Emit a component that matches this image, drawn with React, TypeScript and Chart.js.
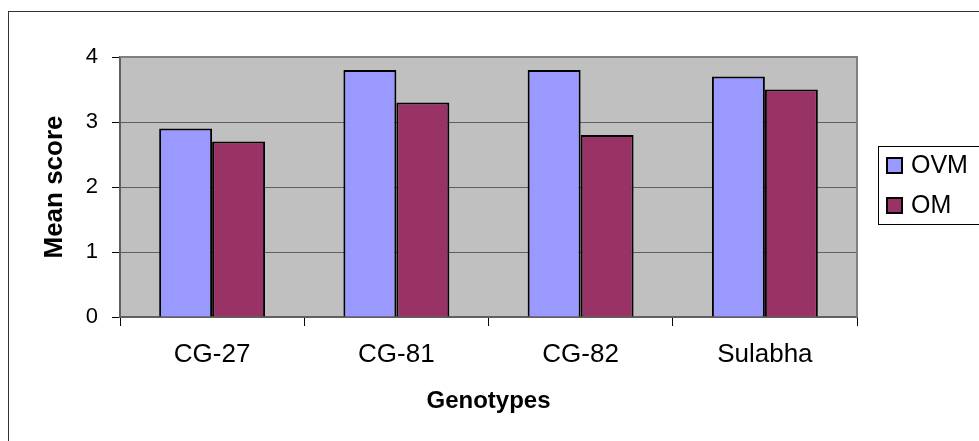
import React, { useEffect, useRef } from 'react';
import { Chart, registerables } from 'chart.js';

Chart.register(...registerables);

const categories = ['CG-27', 'CG-81', 'CG-82', 'Sulabha'];
const ovmValues = [2.9, 3.8, 3.8, 3.7];
const omValues = [2.7, 3.3, 2.8, 3.5];
const seriesNames = ['OVM', 'OM'];
const seriesColors = ['#9999FF', '#993366'];
const yMin = 0;
const yMax = 4;
const yStep = 1;
const xTitle = 'Genotypes';
const yTitle = 'Mean score';

const FONT = "'Liberation Sans', Arial, sans-serif";

const framePlugin = {
  id: 'frame',
  beforeDraw(chart: any) {
    const { ctx, chartArea, width, height } = chart;
    ctx.save();
    ctx.fillStyle = '#FFFFFF';
    ctx.fillRect(0, 0, width, height);
    ctx.strokeStyle = '#333333';
    ctx.lineWidth = 1;
    ctx.strokeRect(8.5, 11.5, width + 20, height + 20);
    ctx.fillStyle = '#C0C0C0';
    ctx.fillRect(chartArea.left, chartArea.top, chartArea.right - chartArea.left, chartArea.bottom - chartArea.top);
    ctx.restore();
  },
  beforeDatasetsDraw(chart: any) {
    const { ctx, chartArea } = chart;
    ctx.save();
    ctx.strokeStyle = '#808080';
    ctx.lineWidth = 2;
    ctx.beginPath();
    ctx.moveTo(chartArea.left, chartArea.top);
    ctx.lineTo(chartArea.right, chartArea.top);
    ctx.lineTo(chartArea.right, chartArea.bottom);
    ctx.stroke();
    ctx.restore();
  },
  afterDraw(chart: any) {
    const { ctx } = chart;
    ctx.save();
    ctx.strokeStyle = '#000000';
    ctx.lineWidth = 1;
    ctx.strokeRect(878.5, 146.5, 130, 78);
    const rows = [165.5, 205.5];
    chart.data.datasets.forEach((ds: any, i: number) => {
      const cy = rows[i];
      ctx.fillStyle = ds.backgroundColor;
      ctx.fillRect(887, cy - 7.5, 15, 15);
      ctx.lineWidth = 2;
      ctx.strokeStyle = '#000';
      ctx.strokeRect(887, cy - 7.5, 15, 15);
      ctx.fillStyle = '#000';
      ctx.font = `25px ${FONT}`;
      ctx.textBaseline = 'middle';
      ctx.textAlign = 'left';
      ctx.fillText(ds.label, 911, cy + 1);
    });
    ctx.restore();
  },
};

export default function App() {
  const ref = useRef<HTMLCanvasElement | null>(null);
  useEffect(() => {
    if (!ref.current) return;
    const chart = new Chart(ref.current, {
      type: 'bar',
      data: {
        labels: categories,
        datasets: [
          {
            label: seriesNames[0],
            data: ovmValues,
            backgroundColor: seriesColors[0],
            borderColor: '#000000',
            borderWidth: 2,
            categoryPercentage: 0.575,
            barPercentage: 1.0,
          },
          {
            label: seriesNames[1],
            data: omValues,
            backgroundColor: seriesColors[1],
            borderColor: '#000000',
            borderWidth: 2,
            categoryPercentage: 0.575,
            barPercentage: 1.0,
          },
        ],
      },
      options: {
        responsive: false,
        animation: false,
        devicePixelRatio: 1,
        layout: { padding: { top: 57, right: 122, bottom: 0, left: 0 } },
        plugins: {
          legend: { display: false },
          tooltip: { enabled: false },
        },
        scales: {
          x: {
            offset: true,
            grid: {
              drawOnChartArea: false,
              offset: true,
              tickLength: 9,
              tickColor: '#000000',
            },
            border: { color: '#606060', width: 2 },
            ticks: {
              color: '#000000',
              font: { family: FONT, size: 26 },
              padding: 13,
              maxRotation: 0,
            },
            title: {
              display: true,
              text: xTitle,
              color: '#000000',
              font: { family: FONT, size: 24, weight: 'bold' },
              padding: { top: 0, bottom: 25 },
            },
            afterFit(s: any) {
              s.height = 124;
            },
          },
          y: {
            min: yMin,
            max: yMax,
            ticks: {
              stepSize: yStep,
              color: '#000000',
              font: { family: FONT, size: 22 },
              padding: 14,
            },
            grid: {
              color: '#606060',
              lineWidth: 1,
              tickColor: '#000000',
              tickLength: 8,
            },
            border: { color: '#606060', width: 2 },
            title: {
              display: true,
              text: yTitle,
              color: '#000000',
              font: { family: FONT, size: 26, weight: 'bold' },
              padding: { top: 39, bottom: 0 },
            },
            afterFit(s: any) {
              s.width = 120;
            },
          },
        },
      },
      plugins: [framePlugin],
    } as any);
    return () => chart.destroy();
  }, []);
  return (
    <div style={{ position: 'fixed', left: 0, top: 0, width: 979, height: 441 }}>
      <canvas ref={ref} width={979} height={441} style={{ width: 979, height: 441, display: 'block' }} />
    </div>
  );
}
